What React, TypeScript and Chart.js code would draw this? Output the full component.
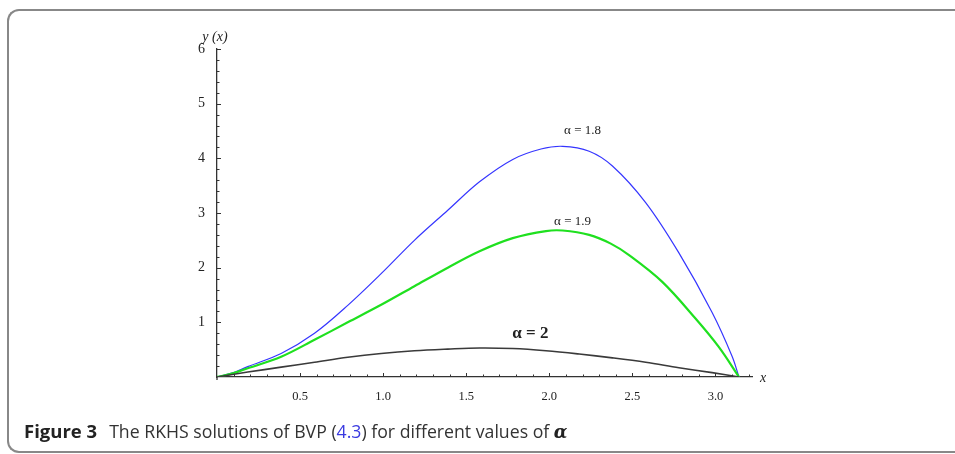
import React, { useEffect, useRef } from "react";
import { Chart, registerables } from "chart.js";

Chart.register(...registerables);

// ---- data ----
const blueX = [0, 0.1, 0.185, 0.386, 0.587, 0.787, 0.988, 1.188, 1.389, 1.58, 1.78, 1.95, 2.08, 2.24, 2.38, 2.58, 2.78, 2.98, 3.1, 3.1416];
const blueY = [0, 0.08, 0.19, 0.43, 0.8, 1.31, 1.89, 2.5, 3.05, 3.57, 3.98, 4.17, 4.22, 4.13, 3.86, 3.19, 2.27, 1.18, 0.38, 0];

const greenX = [0, 0.1, 0.185, 0.386, 0.587, 0.787, 0.988, 1.188, 1.389, 1.58, 1.78, 1.98, 2.08, 2.24, 2.37, 2.48, 2.68, 2.88, 3.02, 3.1416];
const greenY = [0, 0.07, 0.16, 0.37, 0.68, 1.0, 1.32, 1.66, 2.0, 2.3, 2.54, 2.67, 2.68, 2.6, 2.44, 2.23, 1.74, 1.07, 0.55, 0];

const blackX = [0, 0.185, 0.386, 0.587, 0.787, 0.988, 1.188, 1.389, 1.58, 1.78, 1.98, 2.18, 2.38, 2.58, 2.78, 2.98, 3.1416];
const blackY = [0, 0.09, 0.18, 0.27, 0.36, 0.43, 0.48, 0.51, 0.53, 0.52, 0.48, 0.42, 0.35, 0.27, 0.17, 0.08, 0];

const xTickLabels = ["0.5", "1.0", "1.5", "2.0", "2.5", "3.0"];
const yTickLabels = ["1", "2", "3", "4", "5", "6"];

const curveLabels = ["α = 1.8", "α = 1.9", "α = 2"];
const curveLabelX = [2.2, 2.14, 1.886];
const curveLabelY = [4.5, 2.85, 0.79];

const X_MAX = 3.22;
const Y_MAX = 6;

const toPoints = (xs: number[], ys: number[]) => xs.map((x, i) => ({ x, y: ys[i] }));

const SERIF = '"Liberation Serif", "Times New Roman", serif';

const mmaAxes = {
  id: "mmaAxes",
  afterDraw(chart: any) {
    const { ctx, scales } = chart;
    const xs = scales.x;
    const ys = scales.y;
    const x0 = xs.getPixelForValue(0);
    const y0 = ys.getPixelForValue(0);
    ctx.save();
    ctx.strokeStyle = "#333";
    ctx.lineWidth = 1;
    for (let i = 1; i / 10 <= X_MAX; i++) {
      const px = Math.round(xs.getPixelForValue(i / 10)) + 0.5;
      const len = i % 5 === 0 ? 4 : 2.5;
      ctx.beginPath();
      ctx.moveTo(px, y0);
      ctx.lineTo(px, y0 - len);
      ctx.stroke();
    }
    for (let i = 1; i / 5 <= Y_MAX + 1e-9; i++) {
      const py = Math.round(ys.getPixelForValue(i / 5)) + 0.5;
      const len = i % 5 === 0 ? 4 : 2.5;
      ctx.beginPath();
      ctx.moveTo(x0, py);
      ctx.lineTo(x0 + len, py);
      ctx.stroke();
    }
    ctx.lineWidth = 1.3;
    ctx.beginPath();
    ctx.moveTo(x0, y0);
    ctx.lineTo(x0, y0 + 3);
    ctx.stroke();

    ctx.fillStyle = "#222";
    ctx.font = `italic 14px ${SERIF}`;
    ctx.textAlign = "center";
    ctx.textBaseline = "alphabetic";
    ctx.fillText("y (x)", x0 - 2, ys.getPixelForValue(Y_MAX) - 8);
    ctx.textAlign = "left";
    ctx.textBaseline = "middle";
    ctx.fillText("x", xs.getPixelForValue(X_MAX) + 8, y0 + 1);

    ctx.textAlign = "center";
    ctx.textBaseline = "middle";
    curveLabels.forEach((t, i) => {
      ctx.font = i === 2 ? `bold 17px ${SERIF}` : `13px ${SERIF}`;
      ctx.fillText(t, xs.getPixelForValue(curveLabelX[i]), ys.getPixelForValue(curveLabelY[i]));
    });
    ctx.restore();
  },
};

export default function App() {
  const ref = useRef<HTMLCanvasElement | null>(null);

  useEffect(() => {
    if (!ref.current) return;
    const chart = new Chart(ref.current, {
      type: "line",
      data: {
        datasets: [
          {
            label: "α = 2",
            data: toPoints(blackX, blackY),
            borderColor: "#3a3a3a",
            borderWidth: 1.6,
            pointRadius: 0,
            tension: 0.35,
          },
          {
            label: "α = 1.9",
            data: toPoints(greenX, greenY),
            borderColor: "#1fe01f",
            borderWidth: 2.2,
            pointRadius: 0,
            tension: 0.35,
          },
          {
            label: "α = 1.8",
            data: toPoints(blueX, blueY),
            borderColor: "#3535ff",
            borderWidth: 1.2,
            pointRadius: 0,
            tension: 0.35,
          },
        ],
      },
      options: {
        animation: false,
        responsive: false,
        events: [],
        layout: { padding: { left: 0, top: 49, right: 203, bottom: 47 } },
        plugins: { legend: { display: false }, tooltip: { enabled: false } },
        scales: {
          x: {
            type: "linear",
            min: 0,
            max: X_MAX,
            grid: { display: false },
            border: { display: true, color: "#333", width: 1.3 },
            afterFit: (s: any) => {
              s.height = 30;
            },
            ticks: {
              stepSize: 0.5,
              includeBounds: false,
              autoSkip: false,
              maxRotation: 0,
              padding: 4,
              color: "#222",
              font: { family: SERIF, size: 12.5 },
              callback: (v: any) => {
                const n = Number(v);
                if (Math.abs(n * 2 - Math.round(n * 2)) > 1e-6) return "";
                const idx = Math.round(n * 2) - 1;
                return idx >= 0 && idx < xTickLabels.length ? xTickLabels[idx] : "";
              },
            },
          },
          y: {
            type: "linear",
            min: 0,
            max: Y_MAX,
            grid: { display: false },
            border: { display: true, color: "#333", width: 1.3 },
            afterFit: (s: any) => {
              s.width = 217;
            },
            ticks: {
              stepSize: 1,
              autoSkip: false,
              padding: 4,
              color: "#222",
              font: { family: SERIF, size: 14 },
              callback: (v: any) => {
                const idx = Math.round(Number(v)) - 1;
                return idx >= 0 && idx < yTickLabels.length ? yTickLabels[idx] : "";
              },
            },
          },
        },
      },
      plugins: [mmaAxes],
    } as any);
    return () => chart.destroy();
  }, []);

  return (
    <div style={{ position: "absolute", left: 0, top: 0, width: 955, height: 454, overflow: "hidden", background: "#fff" }}>
      <div
        style={{
          position: "absolute",
          left: 7,
          top: 9,
          width: 948,
          height: 444,
          boxSizing: "border-box",
          borderTop: "2px solid #888",
          borderLeft: "2px solid #888",
          borderBottom: "2px solid #888",
          borderRadius: "12px 0 0 12px",
        }}
      />
      <canvas ref={ref} width={955} height={454} style={{ position: "absolute", left: 0, top: 0, width: 955, height: 454 }} />
      <div
        style={{
          position: "absolute",
          left: 24,
          top: 419,
          fontFamily: '"Open Sans", sans-serif',
          fontSize: 17.7,
          lineHeight: "23px",
          color: "#333",
          whiteSpace: "nowrap",
        }}
      >
        <span style={{ fontWeight: 700, color: "#222", fontSize: 18.5 }}>Figure 3</span>
        <span style={{ marginLeft: 12 }}>The RKHS solutions of BVP (</span>
        <span style={{ color: "#3a3ae0" }}>4.3</span>
        <span>) for different values of </span>
        <span style={{ fontFamily: '"DejaVu Serif", serif', fontStyle: "italic", fontWeight: 700, color: "#222" }}>α</span>
      </div>
    </div>
  );
}
